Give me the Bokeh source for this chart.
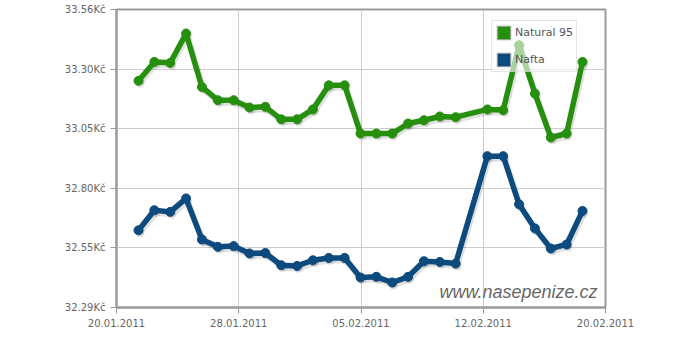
import pandas as pd
from bokeh.plotting import figure
from bokeh.models import (FixedTicker, Legend, LegendItem, Label, ColumnDataSource, Range1d)
from bokeh.embed import file_html
from bokeh.resources import INLINE

# ---- data ----
dates = ["21.01.2011", "22.01.2011", "23.01.2011", "24.01.2011", "25.01.2011", "26.01.2011",
         "27.01.2011", "28.01.2011", "29.01.2011", "30.01.2011", "31.01.2011", "01.02.2011",
         "02.02.2011", "03.02.2011", "04.02.2011", "05.02.2011", "06.02.2011", "07.02.2011",
         "08.02.2011", "09.02.2011", "10.02.2011", "12.02.2011", "13.02.2011", "14.02.2011",
         "15.02.2011", "16.02.2011", "17.02.2011", "18.02.2011"]
natural95 = [33.254, 33.334, 33.330, 33.454, 33.228, 33.172, 33.172, 33.141, 33.144, 33.091,
             33.091, 33.133, 33.235, 33.235, 33.031, 33.031, 33.031, 33.073, 33.087, 33.103,
             33.100, 33.133, 33.130, 33.405, 33.200, 33.014, 33.031, 33.334]
nafta = [32.621, 32.706, 32.699, 32.756, 32.582, 32.551, 32.554, 32.523, 32.525, 32.473,
         32.470, 32.494, 32.504, 32.504, 32.421, 32.424, 32.400, 32.424, 32.490, 32.487,
         32.480, 32.935, 32.935, 32.731, 32.629, 32.544, 32.561, 32.703]
x_tick_labels = ["20.01.2011", "28.01.2011", "05.02.2011", "12.02.2011", "20.02.2011"]
y_min, y_max = 32.294, 33.556
x_start_day, x_end_day = -0.387, 30.45   # days relative to 20.01.2011
series_names = ["Natural 95", "Nafta"]

# ---- derived ----
base = pd.Timestamp("2011-01-20")
days = [(pd.to_datetime(d, format="%d.%m.%Y") - base).days for d in dates]
n_int = len(x_tick_labels) - 1
x_ticks = [x_start_day + i * (x_end_day - x_start_day) / n_int for i in range(n_int + 1)]
y_ticks = [y_min + i * (y_max - y_min) / 5 for i in range(6)]

W, H = 690, 350
L, R, T, B = 116, 85, 9, 43
fw, fh = W - L - R, H - T - B
px_x = (x_end_day - x_start_day) / fw
px_y = (y_max - y_min) / fh

p = figure(width=W, height=H, output_backend="svg", toolbar_location=None,
           x_range=Range1d(x_start_day, x_end_day), y_range=Range1d(y_min, y_max),
           min_border_left=L, min_border_right=R, min_border_top=T, min_border_bottom=B)
p.background_fill_color = "white"
p.border_fill_color = "white"
p.outline_line_color = "#9a9a9a"
p.outline_line_width = 2

FONT = "DejaVu Sans"
for ax in (p.xaxis[0], p.yaxis[0]):
    ax.axis_line_color = "#9a9a9a"
    ax.axis_line_width = 2
    ax.major_tick_line_color = "#9a9a9a"
    ax.major_tick_line_width = 1
    ax.major_tick_out = 6
    ax.major_tick_in = 0
    ax.minor_tick_line_color = None
    ax.major_label_text_font = FONT
    ax.major_label_text_font_size = "10px"
    ax.major_label_text_color = "#666666"
    ax.major_label_standoff = 5

p.xaxis.ticker = FixedTicker(ticks=x_ticks)
p.xaxis.major_label_overrides = {t: s for t, s in zip(x_ticks, x_tick_labels)}
p.yaxis.ticker = FixedTicker(ticks=y_ticks)
p.yaxis.major_label_overrides = {t: f"{t:.2f}Kč" for t in y_ticks}
p.grid.grid_line_color = "#cccccc"
p.grid.grid_line_width = 1

colors = ["#268f0e", "#0d4a7e"]
series = [natural95, nafta]

for name, vals, col in zip(series_names, series, colors):
    sh = ColumnDataSource(dict(x=[d + 1.5 * px_x for d in days], y=[v - 2.5 * px_y for v in vals]))
    p.line("x", "y", source=sh, line_color="black", line_alpha=0.12, line_width=6,
           line_join="round")
    p.scatter("x", "y", source=sh, size=9, fill_color="black", fill_alpha=0.12, line_color=None)

legend_items = []
nan = float("nan")
for name, vals, col in zip(series_names, series, colors):
    src = ColumnDataSource(dict(x=days, y=vals))
    p.line("x", "y", source=src, line_color=col, line_width=5.5, line_join="round")
    p.scatter("x", "y", source=src, size=9, fill_color=col, line_color=col, line_width=1)
    key_src = ColumnDataSource(dict(l=[nan], r=[nan], t=[nan], b=[nan]))
    q = p.quad(left="l", right="r", top="t", bottom="b", source=key_src,
               fill_color=col, line_color="#aaaaaa", line_width=1)
    legend_items.append(LegendItem(label=name, renderers=[q], index=0))

legend = Legend(items=legend_items, location=(375, 235), orientation="vertical",
                glyph_width=17, glyph_height=17, label_height=14, spacing=10, padding=3,
                margin=0, label_standoff=3,
                label_text_font=FONT, label_text_font_size="11px", label_text_color="#555555",
                border_line_color="#cccccc", border_line_width=1,
                background_fill_color="white", background_fill_alpha=0.6)
p.add_layout(legend, "center")

p.add_layout(Label(x=481, y=6, x_units="screen", y_units="screen", text="www.nasepenize.cz",
                   text_align="right", text_baseline="bottom", text_font="Liberation Sans",
                   text_font_style="italic", text_font_size="18px", text_color="#666666"))

open("out.html", "w").write(file_html(p, INLINE))
